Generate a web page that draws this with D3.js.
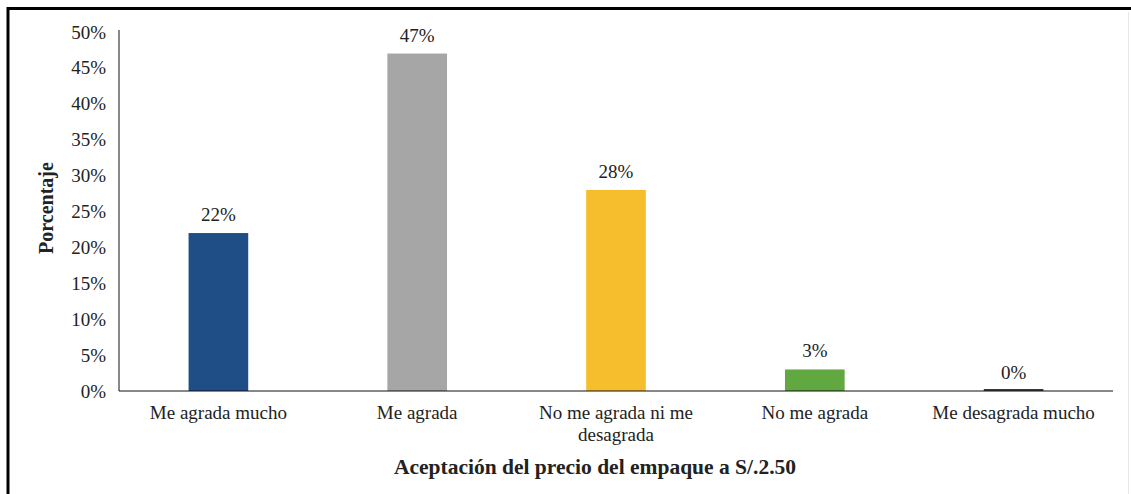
<!DOCTYPE html>
<html>
<head>
<meta charset="utf-8">
<script src="https://cdn.jsdelivr.net/npm/d3@7"></script>
<style>
  html, body { margin: 0; padding: 0; background: #ffffff; }
  svg { display: block; }
  text { font-family: "Liberation Serif", "Times New Roman", serif; fill: #222; }
</style>
</head>
<body>
<svg id="chart" width="1131" height="494"></svg>
<script>
// Survey answers: acceptance of the package price at S/.2.50
const categories = [
  ["Me agrada mucho"],
  ["Me agrada"],
  ["No me agrada ni me", "desagrada"],
  ["No me agrada"],
  ["Me desagrada mucho"]
];
const percentages = [22, 47, 28, 3, 0];
const barColors = ["#1f4e87", "#a6a6a6", "#f6be2c", "#60a83f", "#3a3a3a"];
const yTicks = [0, 5, 10, 15, 20, 25, 30, 35, 40, 45, 50];
const yTitle = "Porcentaje";
const xTitle = "Aceptación del precio del empaque a S/.2.50";

const FONT = "Liberation Serif, Times New Roman, serif";
const svg = d3.select("#chart");
const W = 1131, H = 494;
const plot = { left: 119, right: 1113, top: 32, bottom: 391 };

// outer frame: dark rule along the top and left edges
svg.append("line").attr("x1", 8).attr("x2", W).attr("y1", 8.5).attr("y2", 8.5)
  .attr("stroke", "#000").attr("stroke-width", 3);
svg.append("line").attr("x1", 8).attr("x2", 8).attr("y1", 7).attr("y2", H)
  .attr("stroke", "#000").attr("stroke-width", 3);
svg.append("line").attr("x1", 1128.5).attr("x2", 1128.5).attr("y1", 12).attr("y2", H)
  .attr("stroke", "#e6e6e6").attr("stroke-width", 1);

const labels = categories.map(c => c.join(" "));
const x = d3.scaleBand()
  .domain(labels)
  .range([plot.left, plot.right])
  .paddingInner(0.7)
  .paddingOuter(0.35);

const y = d3.scaleLinear().domain([0, 50]).range([plot.bottom, plot.top]);

// bars
svg.append("g").selectAll("rect")
  .data(percentages)
  .join("rect")
  .attr("x", (d, i) => x(labels[i]))
  .attr("width", x.bandwidth())
  .attr("y", d => y(d) - (d === 0 ? 2 : 0))
  .attr("height", d => Math.max(2, y(0) - y(d)))
  .attr("fill", (d, i) => barColors[i]);

// value labels above the bars
svg.append("g").selectAll("text")
  .data(percentages)
  .join("text")
  .attr("x", (d, i) => x(labels[i]) + x.bandwidth() / 2)
  .attr("y", d => y(d) - 12)
  .attr("text-anchor", "middle")
  .attr("font-family", FONT)
  .attr("font-size", 19)
  .text(d => d + "%");

// y axis
const yAxis = svg.append("g")
  .attr("transform", `translate(${plot.left},0)`)
  .call(d3.axisLeft(y).tickValues(yTicks).tickSize(0).tickPadding(13).tickFormat(d => d + "%"));
yAxis.attr("font-family", FONT);
yAxis.select(".domain").attr("stroke", "#111").attr("d", `M0,${plot.top - 2}V${plot.bottom}`);
yAxis.selectAll("text").attr("font-size", 19).attr("fill", "#222");

// x axis baseline and category labels
const xAxis = svg.append("g")
  .attr("transform", `translate(0,${plot.bottom})`)
  .call(d3.axisBottom(x).tickSize(0).tickFormat(""));
xAxis.select(".domain").attr("stroke", "#111").attr("d", `M${plot.left},0H${plot.right}`);

const catGroup = svg.append("g");
categories.forEach((lines, i) => {
  const cx = x(labels[i]) + x.bandwidth() / 2;
  const t = catGroup.append("text")
    .attr("x", cx)
    .attr("y", 419)
    .attr("text-anchor", "middle")
    .attr("font-family", FONT)
    .attr("font-size", 19);
  lines.forEach((ln, j) => {
    t.append("tspan").attr("x", cx).attr("dy", j === 0 ? 0 : 22).text(ln);
  });
});

// axis titles
svg.append("text")
  .attr("transform", `translate(53,208) rotate(-90)`)
  .attr("text-anchor", "middle")
  .attr("font-family", FONT)
  .attr("font-size", 20)
  .attr("font-weight", "bold")
  .text(yTitle);

svg.append("text")
  .attr("x", 595)
  .attr("y", 474)
  .attr("text-anchor", "middle")
  .attr("font-family", FONT)
  .attr("font-size", 21.5)
  .attr("font-weight", "bold")
  .text(xTitle);
</script>
</body>
</html>
